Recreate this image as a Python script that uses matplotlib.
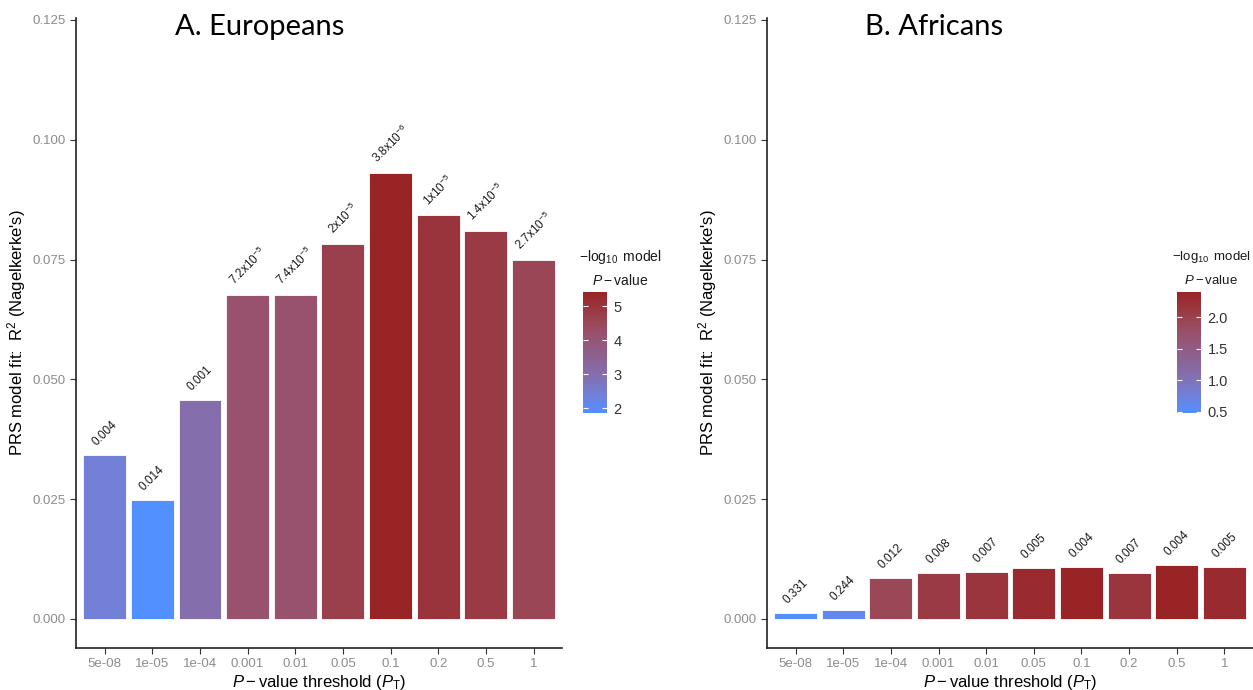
import numpy as np
import matplotlib
matplotlib.use('Agg')
import matplotlib.pyplot as plt
from matplotlib.colors import LinearSegmentedColormap, Normalize
from matplotlib.colorbar import ColorbarBase

plt.rcParams['font.family'] = ['Liberation Sans', 'DejaVu Sans']
plt.rcParams['mathtext.fontset'] = 'custom'
plt.rcParams['mathtext.rm'] = 'Liberation Sans'
plt.rcParams['mathtext.it'] = 'Liberation Sans:italic'
plt.rcParams['mathtext.default'] = 'regular'

# dados
limiares = ['5e-08', '1e-05', '1e-04', '0.001', '0.01', '0.05', '0.1', '0.2', '0.5', '1']

r2_eur = [0.0342, 0.0248, 0.0456, 0.0677, 0.0677, 0.0783, 0.0931, 0.0842, 0.0810, 0.0750]
p_eur = [0.004, 0.014, 0.001, 7.2e-5, 7.4e-5, 2e-5, 3.8e-6, 1e-5, 1.4e-5, 2.7e-5]
rotulos_eur = ['0.004', '0.014', '0.001', r'7.2x10$^{-5}$', r'7.4x10$^{-5}$', r'2x10$^{-5}$',
               r'3.8x10$^{-6}$', r'1x10$^{-5}$', r'1.4x10$^{-5}$', r'2.7x10$^{-5}$']

r2_afr = [0.0012, 0.0018, 0.0085, 0.0095, 0.0098, 0.0107, 0.0109, 0.0096, 0.0112, 0.0108]
p_afr = [0.331, 0.244, 0.012, 0.008, 0.007, 0.005, 0.004, 0.007, 0.004, 0.005]
rotulos_afr = ['0.331', '0.244', '0.012', '0.008', '0.007', '0.005', '0.004', '0.007', '0.004', '0.005']

yticks = [0.000, 0.025, 0.050, 0.075, 0.100, 0.125]

# gradiente azul -> vermelho (parecido com o do ggplot)
paradas = [(0.0, '#528FFF'), (0.15, '#7280D8'), (0.32, '#846EAC'), (0.64, '#98526E'),
           (0.76, '#9A4656'), (0.88, '#9A343C'), (1.0, '#982426')]
cmap = LinearSegmentedColormap.from_list('pval', paradas)

cinza = '#8C8C8C'

fig = plt.figure(figsize=(12.53, 6.9), dpi=100)


def painel(left, r2, pvals, rotulos, titulo, titulo_x, cb_left, cb_ticks, cb_fmt, cx, cb_fs):
    ax = fig.add_axes([left, 0.0613, 0.3879, 0.9126])
    logp = -np.log10(np.array(pvals))
    norm = Normalize(vmin=logp.min(), vmax=logp.max())
    x = np.arange(len(limiares))
    ax.bar(x, r2, width=0.9, color=cmap(norm(logp)), edgecolor='white', linewidth=0.6)
    for xi, yi, rot in zip(x, r2, rotulos):
        ax.annotate(rot, (xi, yi), xytext=(0, 5), textcoords='offset points',
                    ha='center', va='bottom', rotation=45, fontsize=8.5, color='#1a1a1a')
    ax.set_xlim(-0.6, 9.6)
    ax.set_ylim(-0.006, 0.1254)
    ax.set_xticks(x)
    ax.set_xticklabels(limiares)
    ax.set_yticks(yticks)
    ax.set_yticklabels([f'{t:.3f}' for t in yticks])
    ax.tick_params(labelsize=9.5, labelcolor=cinza, color='#333333', length=4, width=0.8)
    for s in ['top', 'right']:
        ax.spines[s].set_visible(False)
    for s in ['left', 'bottom']:
        ax.spines[s].set_linewidth(1.2)
        ax.spines[s].set_color('#222222')
    ax.set_xlabel(r'$\it{P}-$value threshold ($\it{P}_\mathrm{T}$)', fontsize=12, labelpad=2)
    ax.set_ylabel(r"PRS model fit:  R$^2$ (Nagelkerke's)", fontsize=12, labelpad=3)
    fig.text(titulo_x, 0.961, titulo, fontsize=21, family='Lato', ha='center', va='center')

    # barra de cores
    cax = fig.add_axes([cb_left, 0.4014, 0.0192, 0.1754])
    cb = ColorbarBase(cax, cmap=cmap, norm=norm, ticks=cb_ticks)
    cb.outline.set_visible(False)
    cax.tick_params(direction='in', length=3.5, width=0.8, color='white', left=True, right=True,
                    labelleft=False, labelright=True, labelsize=10.5, labelcolor='#333333', pad=5)
    cax.set_yticklabels([cb_fmt.format(t) for t in cb_ticks])
    fig.text(cx, 0.6275, r'$-\log_{10}$ model', fontsize=cb_fs, ha='center', va='center', color='#1a1a1a')
    fig.text(cx, 0.593, r'$\it{P}-$value', fontsize=cb_fs, ha='center', va='center', color='#1a1a1a')
    return ax


painel(0.0607, r2_eur, p_eur, rotulos_eur, 'A. Europeans', 0.2075,
       0.4650, [2, 3, 4, 5], '{:.0f}', 0.4952, 10)
painel(0.6121, r2_afr, p_afr, rotulos_afr, 'B. Africans', 0.7454,
       0.9391, [0.5, 1.0, 1.5, 2.0], '{:.1f}', 0.9668, 9.5)

plt.savefig('out.png', dpi=100)
